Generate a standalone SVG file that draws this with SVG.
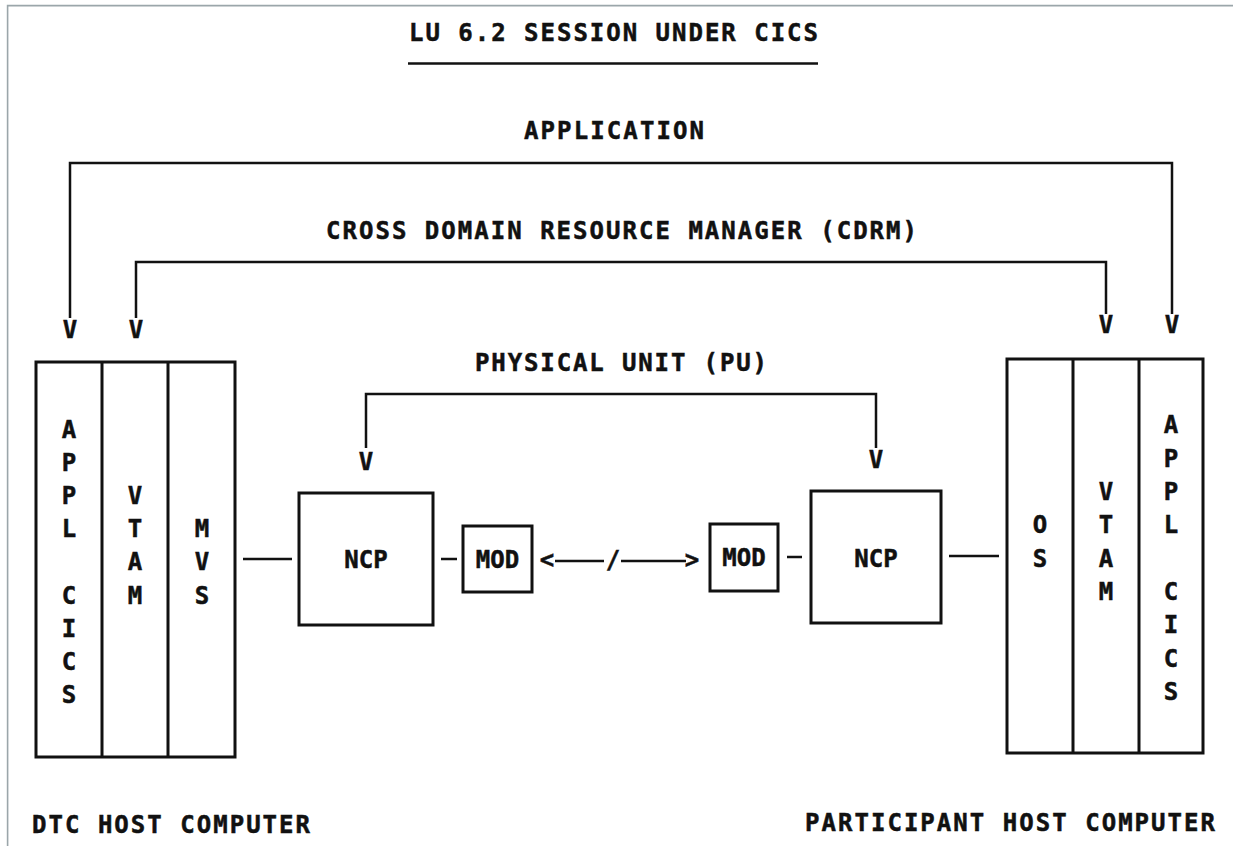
<svg xmlns="http://www.w3.org/2000/svg" width="1233" height="846" viewBox="0 0 1233 846">
<style>
text{font-family:"DejaVu Sans Mono","Liberation Mono",monospace;font-weight:bold;font-size:24px;fill:#111;stroke:#111;stroke-width:0.5;}
.c{text-anchor:middle;}
.box{fill:none;stroke:#111;stroke-width:3;}
.ln{fill:none;stroke:#111;stroke-width:2.5;}
</style>
<rect width="1233" height="846" fill="#fff"/>
<path d="M7.6 846 V5.6 H1233" fill="none" stroke="#9ba6aa" stroke-width="1.6"/>

<g id="title">
<text x="409" y="41" textLength="409" lengthAdjust="spacing">LU 6.2 SESSION UNDER CICS</text>
<line x1="408" y1="63.5" x2="818" y2="63.5" stroke="#111" stroke-width="2.5"/>
</g>

<g id="labels">
<text x="524" y="139" textLength="180" lengthAdjust="spacing">APPLICATION</text>
<text x="326" y="239" textLength="591" lengthAdjust="spacing">CROSS DOMAIN RESOURCE MANAGER (CDRM)</text>
<text x="475" y="371" textLength="292" lengthAdjust="spacing">PHYSICAL UNIT (PU)</text>
</g>

<g id="connectors">
<path class="ln" d="M70 318 V163 H1172 V314"/>
<path class="ln" d="M136 318 V262 H1106 V314"/>
<path class="ln" d="M366 448 V394 H876 V448"/>
<text class="c" x="70" y="338">V</text>
<text class="c" x="136" y="338">V</text>
<text class="c" x="1106" y="333">V</text>
<text class="c" x="1172" y="333">V</text>
<text class="c" x="366" y="470">V</text>
<text class="c" x="876" y="468">V</text>
<line class="ln" x1="243" y1="559" x2="292" y2="559"/>
<line class="ln" x1="441" y1="559" x2="457" y2="559"/>
<line class="ln" x1="555" y1="561" x2="604" y2="561"/>
<line class="ln" x1="621" y1="561" x2="686" y2="561"/>
<text class="c" x="547" y="568">&lt;</text>
<text class="c" x="613" y="568">/</text>
<text class="c" x="692" y="568">&gt;</text>
<line class="ln" x1="787" y1="557" x2="802" y2="557"/>
<line class="ln" x1="949" y1="556" x2="999" y2="556"/>
</g>

<g id="dtc-host">
<rect class="box" x="36" y="362" width="199" height="395"/>
<line class="box" x1="102" y1="362" x2="102" y2="757"/>
<line class="box" x1="168" y1="362" x2="168" y2="757"/>
<text class="c" x="69" y="438">A</text>
<text class="c" x="69" y="471">P</text>
<text class="c" x="69" y="504">P</text>
<text class="c" x="69" y="537">L</text>
<text class="c" x="69" y="604">C</text>
<text class="c" x="69" y="637">I</text>
<text class="c" x="69" y="670">C</text>
<text class="c" x="69" y="703">S</text>
<text class="c" x="135" y="504">V</text>
<text class="c" x="135" y="537">T</text>
<text class="c" x="135" y="570">A</text>
<text class="c" x="135" y="604">M</text>
<text class="c" x="202" y="537">M</text>
<text class="c" x="202" y="570">V</text>
<text class="c" x="202" y="604">S</text>
<text x="32" y="833" textLength="278" lengthAdjust="spacing">DTC HOST COMPUTER</text>
</g>

<g id="ncp-left">
<rect class="box" x="299" y="493" width="134" height="132"/>
<text class="c" x="366" y="568">NCP</text>
</g>
<g id="mod-left">
<rect class="box" x="463" y="526" width="69" height="66"/>
<text class="c" x="497.5" y="568">MOD</text>
</g>
<g id="mod-right">
<rect class="box" x="710" y="524" width="68" height="67"/>
<text class="c" x="744" y="566">MOD</text>
</g>
<g id="ncp-right">
<rect class="box" x="811" y="491" width="130" height="132"/>
<text class="c" x="876" y="567">NCP</text>
</g>

<g id="participant-host">
<rect class="box" x="1007" y="359" width="196" height="394"/>
<line class="box" x1="1073" y1="359" x2="1073" y2="753"/>
<line class="box" x1="1139" y1="359" x2="1139" y2="753"/>
<text class="c" x="1040" y="533">O</text>
<text class="c" x="1040" y="567">S</text>
<text class="c" x="1106" y="500">V</text>
<text class="c" x="1106" y="533">T</text>
<text class="c" x="1106" y="567">A</text>
<text class="c" x="1106" y="600">M</text>
<text class="c" x="1171" y="433">A</text>
<text class="c" x="1171" y="467">P</text>
<text class="c" x="1171" y="500">P</text>
<text class="c" x="1171" y="533">L</text>
<text class="c" x="1171" y="600">C</text>
<text class="c" x="1171" y="633">I</text>
<text class="c" x="1171" y="667">C</text>
<text class="c" x="1171" y="700">S</text>
<text x="805" y="831" textLength="410" lengthAdjust="spacing">PARTICIPANT HOST COMPUTER</text>
</g>
</svg>
